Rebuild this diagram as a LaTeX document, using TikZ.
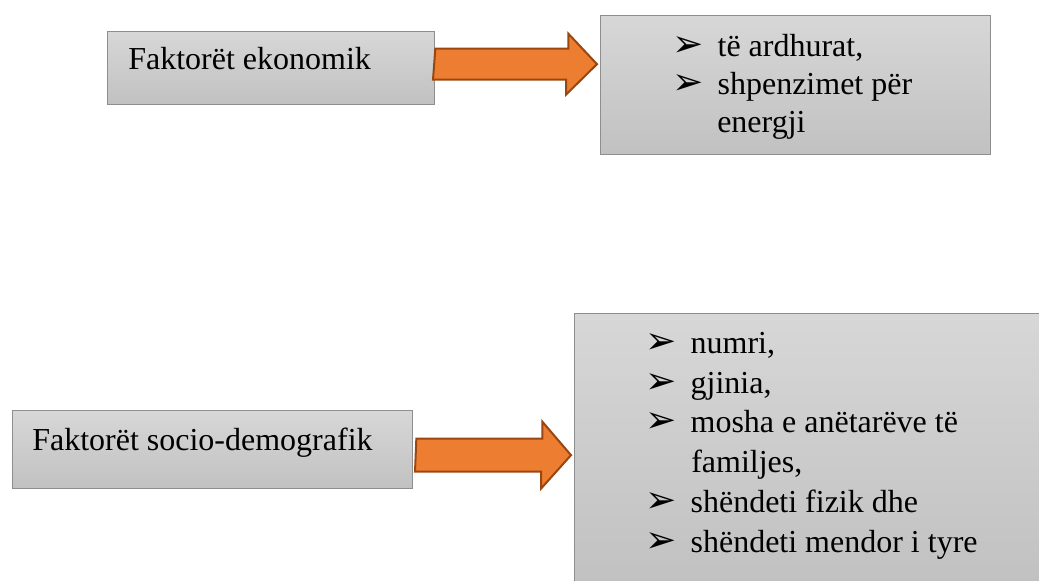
\documentclass[tikz,border=0pt]{standalone}
\usepackage{fontspec}
\setmainfont{Liberation Serif}
\newfontfamily\dejavu{DejaVu Sans}
\usetikzlibrary{calc}

\definecolor{kutiasiper}{HTML}{D7D7D7}
\definecolor{kutiaposht}{HTML}{C1C1C1}
\definecolor{kutiavije}{HTML}{8E8E8E}
\definecolor{portokalli}{HTML}{ED7D31}
\definecolor{portokallierr}{HTML}{9A4611}

% shenja e listes
\newcommand{\pika}{\makebox[34pt][l]{\dejavu\fontsize{28}{28}\selectfont ➢}}

\begin{document}
\begin{tikzpicture}[
    x=0.75pt, y=-0.75pt,
    kuti/.style={draw=kutiavije, line width=1pt, top color=kutiasiper,
        bottom color=kutiaposht, anchor=north west, inner sep=0pt},
    tekst/.style={anchor=base west, inner sep=0pt,
        font=\fontsize{24}{24}\selectfont},
    shigjete/.style={draw=portokallierr, fill=portokalli, line width=1.5pt}]
    \useasboundingbox (0,0) rectangle (1039,581);

    % Kutite.
    \node[kuti, minimum width=245.25pt, minimum height=54.75pt] (ekonomik) at (107,31) {};
    \node[kuti, minimum width=292.5pt, minimum height=104.25pt] (ekolista) at (600,15) {};
    \node[kuti, minimum width=300pt, minimum height=58.5pt] (socio) at (12,410) {};
    \node[kuti, minimum width=350.25pt, minimum height=202.5pt] (sociolista) at (574,313) {};

    % Tekstet e kutive majtas.
    \node[tekst] (ekonomik-t) at (128,70) {Faktorët ekonomik};
    \node[tekst] (socio-t) at (32,450) {Faktorët socio-demografik};

    % Lista lart.
    \node[tekst] (eko-1) at (672,57) {\pika të ardhurat,};
    \node[tekst] (eko-2) at (672,95) {\pika shpenzimet për};
    \node[tekst] (eko-3) at (717,133) {energji};

    % Lista poshte.
    \node[tekst] (soc-1) at (645,353) {\pika numri,};
    \node[tekst] (soc-2) at (645,393) {\pika gjinia,};
    \node[tekst] (soc-3) at (645,432) {\pika mosha e anëtarëve të};
    \node[tekst] (soc-4) at (691,472) {familjes,};
    \node[tekst] (soc-5) at (645,512) {\pika shëndeti fizik dhe};
    \node[tekst] (soc-6) at (645,552) {\pika shëndeti mendor i tyre};

    % Shigjetat.
    \coordinate (s1) at ($(ekonomik.east)+(0,-4)$);
    \coordinate (t1) at ($(s1 -| ekolista.west)+(-3,0)$);
    \draw[shigjete] (s1) ++(0,-15.5) -- ++(133,0) -- ++(0,-15) -- (t1)
        -- ++(-31,30.5) -- ++(0,-15) -- ++(-133,0) -- cycle;
    \coordinate (s2) at ($(socio.east)+(3,5.5)$);
    \coordinate (t2) at ($(s2 -| sociolista.west)+(-3,0)$);
    \draw[shigjete] (s2) ++(0,-16.5) -- ++(126,0) -- ++(0,-17) -- (t2)
        -- ++(-30,33.5) -- ++(0,-17) -- ++(-126,0) -- cycle;
\end{tikzpicture}
\end{document}
